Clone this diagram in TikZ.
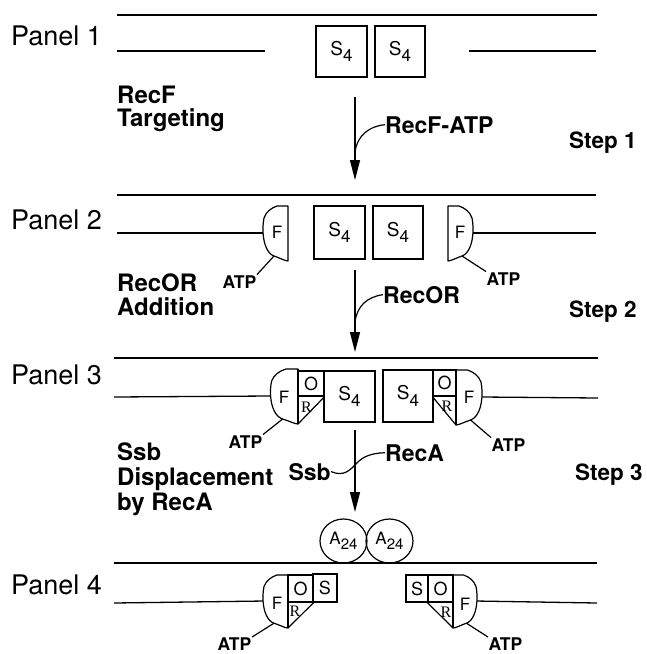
\documentclass[tikz,border=0pt]{standalone}
\usepackage{fontspec}
\setmainfont{TeX Gyre Heros}
\newfontfamily\serifR{Liberation Serif}
\usetikzlibrary{arrows.meta,shapes.geometric}
\newcommand\Sfour{S\lower6.5pt\hbox{\fontsize{17}{17}\selectfont 4}}
\newcommand\Afour{A\lower5pt\hbox{\fontsize{15}{15}\selectfont 24}}
\newcommand\myblob[5]{%
\begin{scope}[shift={(#2,#3)},xscale=#4,yscale=#5]
\draw[blobline] (0,0) coordinate (#1-top) -- (-11,0) .. controls (-17,2) and (-22,6) .. (-24,12)
  .. controls (-26,22) and (-25,34) .. (-22,41) .. controls (-20,46) and (-17,49) .. (-14,50) coordinate (#1-atp)
  .. controls (-8,52) and (-3,55) .. (0,55) coordinate (#1-bot) -- cycle;
\coordinate (#1-mid) at (-25,27);
\end{scope}}
\begin{document}
\begin{tikzpicture}[x=1pt,y=-1pt,
  dna/.style={line width=1.3pt},
  blobline/.style={line width=1.2pt, line join=round},
  flat/.style={line width=2pt},
  sbox/.style={draw, line width=1.2pt, inner sep=0pt, font=\fontsize{19}{19}\selectfont},
  obox/.style={draw, line width=1.2pt, inner sep=0pt, font=\fontsize{18}{18}\selectfont},
  fl/.style={inner sep=0pt, font=\fontsize{17}{17}\selectfont},
  rl/.style={inner sep=0pt, font=\serifR\fontsize{16}{16}\selectfont},
  panel/.style={anchor=base west, inner sep=0pt, font=\fontsize{27}{29}\selectfont},
  lefttxt/.style={anchor=base west, inner sep=0pt, font=\bfseries\fontsize{24}{26}\selectfont},
  righttxt/.style={anchor=base west, inner sep=0pt, font=\bfseries\fontsize{23}{25}\selectfont},
  steptxt/.style={anchor=base west, inner sep=0pt, font=\bfseries\fontsize{22.5}{24}\selectfont},
  atp/.style={inner sep=0.5pt, font=\bfseries\fontsize{17.5}{17.5}\selectfont},
  arr/.style={line width=1.3pt, -{Triangle[length=20pt,width=10pt]}},
  thin/.style={line width=1.2pt},
  circ/.style={draw, ellipse, line width=1.2pt, minimum width=47pt, minimum height=44pt, inner sep=0pt, font=\fontsize{17}{17}\selectfont}
]
\useasboundingbox (0,0) rectangle (646,654);

% ---------- Panel 1 ----------
\node[panel] (pan1) at (11,45.5) {Panel 1};
\coordinate (p1tl) at (117,15); \coordinate (p1tr) at (597,15);
\draw[dna] (p1tl) -- (p1tr);
\coordinate (p1a) at (117,51); \coordinate (p1b) at (265,51);
\coordinate (p1c) at (469,51); \coordinate (p1d) at (596,51);
\draw[dna] (p1a) -- (p1b);
\draw[dna] (p1c) -- (p1d);
\node[sbox, minimum width=51pt, minimum height=51pt] (p1s1) at (341.5,51.5) {\Sfour};
\node[sbox, minimum width=50pt, minimum height=51pt] (p1s2) at (400,51.5) {\Sfour};

\node[lefttxt] (recf) at (117,103.5) {RecF};
\node[lefttxt] (targ) at (117,126.5) {Targeting};
\coordinate (a1s) at (355,97); \coordinate (a1e) at (355,180);
\draw[arr] (a1s) -- (a1e);
\node[righttxt] (recfatp) at (385,133) {RecF-ATP};
\draw[thin] (recfatp.west) .. controls (369,126) and (357,136) .. (355,152);
\node[steptxt] (step1) at (569,148) {Step 1};

% ---------- Panel 2 ----------
\node[panel] (pan2) at (11,229.5) {Panel 2};
\coordinate (p2tl) at (117,195); \coordinate (p2tr) at (596,195);
\draw[dna] (p2tl) -- (p2tr);
\myblob{f2l}{288}{206}{1}{1}
\myblob{f2r}{448}{206}{-1}{1}
\coordinate (p2a) at (117,233); \coordinate (p2d) at (596,233);
\draw[dna] (p2a) -- (f2l-mid);
\draw[dna] (f2r-mid) -- (p2d);
\node[fl] (f2lt) at (277,232) {F};
\node[fl] (f2rt) at (460,232) {F};
\node[sbox, minimum width=51pt, minimum height=53pt] (p2s1) at (339.5,232.5) {\Sfour};
\node[sbox, minimum width=50pt, minimum height=53pt] (p2s2) at (398,232.5) {\Sfour};
\node[atp, anchor=base west] (atp2l) at (222,288) {ATP};
\node[atp, anchor=base west] (atp2r) at (486,285) {ATP};
\draw[thin] (f2l-atp) -- (atp2l.north east);
\draw[thin] (f2r-atp) -- (atp2r.north west);

\node[lefttxt] (recor) at (117,291.5) {RecOR};
\node[lefttxt] (addi) at (117,315.5) {Addition};
\coordinate (a2s) at (355,270); \coordinate (a2e) at (355,352);
\draw[arr] (a2s) -- (a2e);
\node[righttxt] (recor2) at (383,303) {RecOR};
\draw[thin] (recor2.west) .. controls (367,297) and (357,306) .. (355,322);
\node[steptxt] (step2) at (569,317) {Step 2};

% ---------- Panel 3 ----------
\node[panel] (pan3) at (11,384.5) {Panel 3};
\coordinate (p3tl) at (114,358); \coordinate (p3tr) at (598,358);
\draw[dna] (p3tl) -- (p3tr);
\myblob{f3l}{298}{369}{1.1}{1}
\myblob{f3r}{456}{370}{-1.04}{1}
\coordinate (p3a) at (114,397); \coordinate (p3d) at (598,398);
\draw[dna] (p3a) -- (f3l-mid);
\draw[dna] (f3r-mid) -- (p3d);
\draw[flat] (f3l-top) -- (f3l-bot);
\draw[flat] (f3r-top) -- (f3r-bot);
\node[fl] (f3lt) at (284,397) {F};
\node[fl] (f3rt) at (469,397) {F};
\node[obox, minimum width=26pt, minimum height=25pt] (o3l) at (311,383.5) {O};
\node[obox, minimum width=23pt, minimum height=26pt] (o3r) at (444.5,383) {O};
\draw[thin] (o3l.south east) -- (f3l-bot);
\draw[thin] (o3r.south west) -- (f3r-bot);
\node[rl] (r3l) at (306.5,407) {R};
\node[rl] (r3r) at (447,406) {R};
\node[sbox, minimum width=51pt, minimum height=51pt] (p3s1) at (349.5,396.5) {\Sfour};
\node[sbox, minimum width=50pt, minimum height=52pt] (p3s2) at (408,396) {\Sfour};
\node[atp, anchor=base west] (atp3l) at (228,448) {ATP};
\node[atp, anchor=base west] (atp3r) at (491,451) {ATP};
\draw[thin] (f3l-atp) -- (atp3l.north east);
\draw[thin] (f3r-atp) -- (atp3r.north west);

\node[lefttxt] (ssbl) at (117,460.5) {Ssb};
\node[lefttxt] (disp) at (117,485.5) {Displacement};
\node[lefttxt] (byreca) at (117,510.5) {by RecA};
\coordinate (a3s) at (355,430); \coordinate (a3e) at (355,512);
\draw[arr] (a3s) -- (a3e);
\node[righttxt] (reca) at (385,461) {RecA};
\node[righttxt, anchor=base east] (ssb2) at (331,480) {Ssb};
\draw[thin] (ssb2.east) .. controls (344,477) and (350,470) .. (356,464)
  .. controls (362,457) and (371,453) .. (reca.west);
\node[steptxt] (step3) at (575,480) {Step 3};

% ---------- Panel 4 ----------
\node[circ] (c1) at (343.5,541) {\Afour};
\node[circ] (c2) at (389.5,541) {\Afour};
\node[panel] (pan4) at (11,594.5) {Panel 4};
\coordinate (p4tl) at (114,563); \coordinate (p4tr) at (597,563);
\draw[dna] (p4tl) -- (p4tr);
\myblob{f4l}{288}{575}{1}{0.964}
\myblob{f4r}{453}{575}{-0.96}{0.964}
\coordinate (p4a) at (114,603); \coordinate (p4d) at (597,603);
\draw[dna] (p4a) -- (f4l-mid);
\draw[dna] (f4r-mid) -- (p4d);
\draw[flat] (f4l-top) -- (f4l-bot);
\draw[flat] (f4r-top) -- (f4r-bot);
\node[fl] (f4lt) at (277,603) {F};
\node[fl] (f4rt) at (465,604) {F};
\node[obox, minimum width=25pt, minimum height=27pt] (o4l) at (300.5,588.5) {O};
\node[obox, minimum width=24pt, minimum height=28pt] (s4l) at (325,588) {S};
\node[obox, minimum width=25pt, minimum height=27pt] (o4r) at (440.5,588.5) {O};
\node[obox, minimum width=22pt, minimum height=27pt] (s4r) at (417,588.5) {S};
\draw[thin] (o4l.south east) -- (f4l-bot);
\draw[thin] (o4r.south west) -- (f4r-bot);
\node[rl] (r4l) at (295,611) {R};
\node[rl] (r4r) at (446,612) {R};
\node[atp, anchor=base west] (atp4l) at (217,650.5) {ATP};
\node[atp, anchor=base west] (atp4r) at (488,650.5) {ATP};
\draw[thin] (f4l-atp) -- (atp4l.north east);
\draw[thin] (f4r-atp) -- (atp4r.north west);
\end{tikzpicture}
\end{document}
